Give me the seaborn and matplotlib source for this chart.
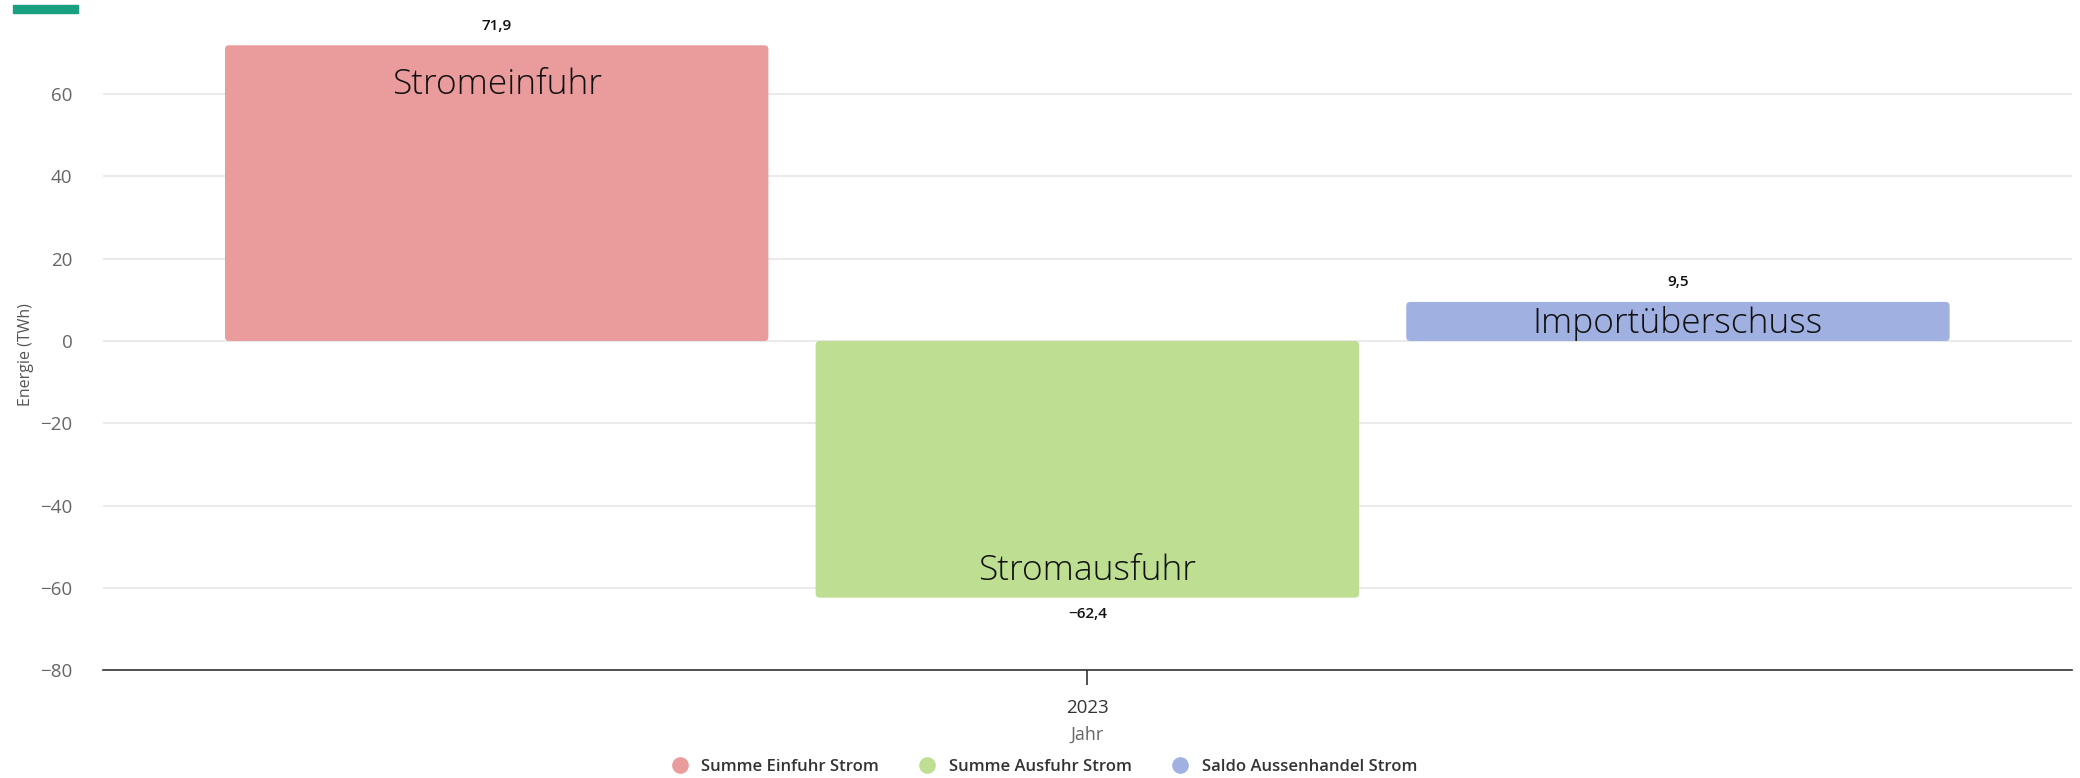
import matplotlib
matplotlib.use("Agg")
import matplotlib.pyplot as plt
import seaborn as sns
import pandas as pd
from matplotlib.lines import Line2D
from matplotlib.patches import Rectangle, FancyBboxPatch

# ---- data ----
years = ["2023"]
series = ["Summe Einfuhr Strom", "Summe Ausfuhr Strom", "Saldo Aussenhandel Strom"]
values = [71.9, -62.4, 9.5]
bar_texts = ["Stromeinfuhr", "Stromausfuhr", "Importüberschuss"]
value_texts = ["71,9", "−62,4", "9,5"]
colors = ["#ea9b9b", "#bedf91", "#a0b0e0"]
yticks = [-80, -60, -40, -20, 0, 20, 40, 60]

df = pd.DataFrame({"Jahr": years * len(series), "Serie": series, "Wert": values})

sns.set_theme(style="white")
plt.rcParams["font.family"] = ["Open Sans", "DejaVu Sans"]

fig = plt.figure(figsize=(20.8, 7.78), dpi=100)
ax = fig.add_axes([0.0495, 0.1388, 0.9465, 0.8458])

sns.barplot(data=df, x="Jahr", y="Wert", hue="Serie", hue_order=series,
            palette=colors, width=0.9, gap=0.08, legend=False, ax=ax,
            saturation=1, edgecolor="none")

ax.set_ylim(-80, 80)
ax.set_xlim(-0.5, 0.5)

# rounded corners (same geometry as seaborn bars)
px_x = 1969.0  # pixels per x unit
px_y = 82.3 / 20  # pixels per y unit
r = 4.0
for bar in list(ax.patches):
    x0, y0, w, h = bar.get_x(), bar.get_y(), bar.get_width(), bar.get_height()
    if h < 0:
        y0, h = y0 + h, -h
    fb = FancyBboxPatch((x0, y0), w, h,
                        boxstyle=f"round,pad=0,rounding_size={r / px_x}",
                        mutation_aspect=(r / px_y) / (r / px_x),
                        facecolor=bar.get_facecolor(), edgecolor="none", zorder=bar.get_zorder())
    bar.set_visible(False)
    ax.add_patch(fb)

ax.set_yticks(yticks)
ax.set_yticklabels([str(t).replace("-", "−") for t in yticks], color="#666666", fontsize=13.5)
ax.yaxis.grid(True, color="#e6e6e6", linewidth=1.2)
ax.set_axisbelow(True)
for s in ["top", "right", "left"]:
    ax.spines[s].set_visible(False)
ax.spines["bottom"].set_color("#333333")
ax.spines["bottom"].set_linewidth(1.2)
ax.tick_params(axis="y", length=0, pad=22)
ax.tick_params(axis="x", bottom=True, length=11, width=1.2, color="#333333", direction="out",
               labelsize=13.5, labelcolor="#333333", pad=10)
ax.set_xlabel("Jahr", color="#666666", fontsize=13, labelpad=6)
ax.set_ylabel("Energie (TWh)", color="#555555", fontsize=11.5)
ax.yaxis.set_label_coords(-0.035, 0.48)

# labels
bars = [p for p in ax.patches if isinstance(p, FancyBboxPatch)]
text_offsets = [-39, 27, -22]
val_offsets = [19, -16, 20]
for bar, txt, vt, to, vo, v in zip(bars, bar_texts, value_texts, text_offsets, val_offsets, values):
    cx = bar.get_x() + bar.get_width() / 2
    ax.annotate(txt, (cx, v), xytext=(0, to), textcoords="offset pixels",
                ha="center", va="center", fontsize=25.5, color="#111111", fontweight="light")
    ax.annotate(vt, (cx, v), xytext=(0, vo), textcoords="offset pixels",
                ha="center", va="center", fontsize=11, color="#111111", fontweight="semibold")

handles = [Line2D([0], [0], marker="o", linestyle="none", markersize=12,
                  markerfacecolor=c, markeredgecolor="none") for c in colors]
fig.legend(handles, series, loc="center", bbox_to_anchor=(0.5, 0.014), ncol=3,
           frameon=False, handletextpad=0.3, columnspacing=1.9,
           labelcolor="#333333", prop={"weight": "semibold", "size": 12})

fig.patches.append(Rectangle((13 / 2080, 1 - 13 / 778), 65 / 2080, 8 / 778,
                             transform=fig.transFigure, color="#18a080", zorder=5))

fig.savefig("out.png", dpi=100)
